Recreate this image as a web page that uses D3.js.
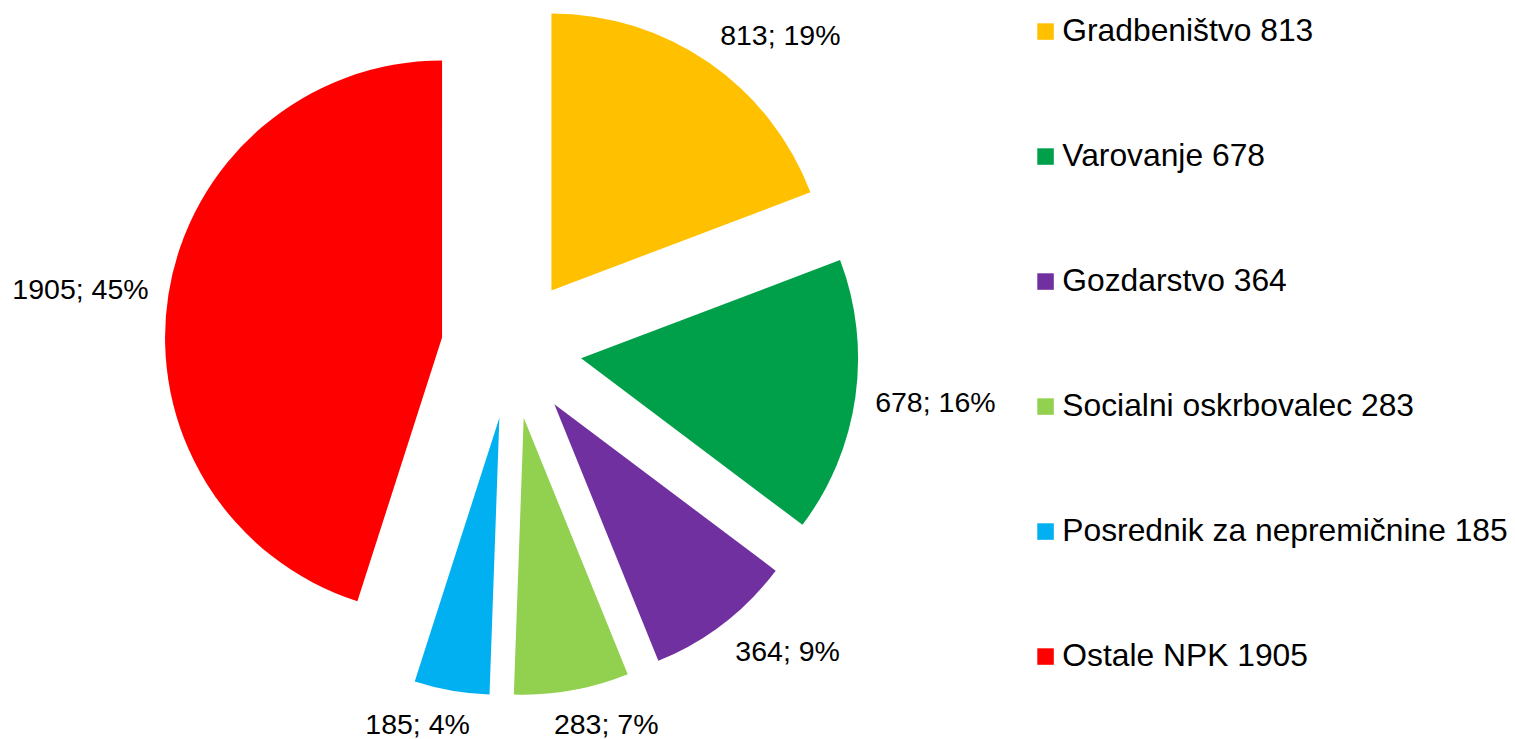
<!DOCTYPE html>
<html>
<head>
<meta charset="utf-8">
<script src="https://cdn.jsdelivr.net/npm/d3@7"></script>
<style>
    body { margin: 0; background: #fff; }
    text { font-family: "Liberation Sans", Arial, sans-serif; fill: #000; }
</style>
</head>
<body>
<script>
const categories = ['Gradbeništvo', 'Varovanje', 'Gozdarstvo', 'Socialni oskrbovalec', 'Posrednik za nepremičnine', 'Ostale NPK']
const values = [813, 678, 364, 283, 185, 1905]
const colors = ['#FFC000', '#00A04A', '#7030A0', '#92D050', '#00B0F0', '#FF0000']

const [width, height] = [1515, 739]
const [cx, cy] = [511.5, 348.4]
const r = 277
const explode = 70.3
const gap = 20

const data = categories.map((c, i) => ({ name: c, value: values[i], color: colors[i] }))
const total = d3.sum(values)

const svg = d3.select('body')
    .append('svg')
        .attr('width', width)
        .attr('height', height)

const pie = d3.pie().sort(null).value(d => d.value)
const arc = d3.arc().innerRadius(0).outerRadius(r)
const arcs = pie(data)
arcs.forEach(a => {   // smer simetrale izseka
    a.mid = (a.startAngle + a.endAngle) / 2
    a.ux = Math.sin(a.mid)
    a.uy = -Math.cos(a.mid)
})

const g = svg.append('g').attr('transform', `translate(${cx},${cy})`)

g.selectAll('path')
    .data(arcs)
    .enter()
    .append('path')
        .attr('d', arc)
        .attr('fill', d => d.data.color)
        .attr('transform', d => `translate(${d.ux * explode},${d.uy * explode})`)

const fmt = d => `${d.data.value}; ${Math.round(d.data.value / total * 100)}%`

g.selectAll('text.lbl')
    .data(arcs)
    .enter()
    .append('text')
        .attr('class', 'lbl')
        .attr('font-size', 28.5)
        .attr('text-anchor', 'middle')
        .text(fmt)
        .each(function (d) {   // oznaka ob zunanjem robu, zamaknjena glede na širino
            const w = this.getComputedTextLength()
            const k = Math.max(-1, Math.min(1, 3.4 * d.ux))
            const x = d.ux * (explode + r + gap) + w / 2 * k
            const y = d.uy * (explode + r + gap) + 14 * d.uy
            d3.select(this).attr('x', x).attr('y', y + 10)
        })

const legendY = d3.scaleLinear().domain([0, 1]).range([40.7, 165.7])

const legend = svg.append('g')
    .selectAll('g')
    .data(data)
    .enter()
    .append('g')
        .attr('transform', (d, i) => `translate(1037.3,${legendY(i)})`)

legend.append('rect')
    .attr('x', 0)
    .attr('y', -17.4)
    .attr('width', 16.5)
    .attr('height', 16.5)
    .attr('fill', d => d.color)

legend.append('text')
    .attr('x', 25)
    .attr('y', 0)
    .attr('font-size', 31.8)
    .text(d => `${d.name} ${d.value}`)
</script>
</body>
</html>
